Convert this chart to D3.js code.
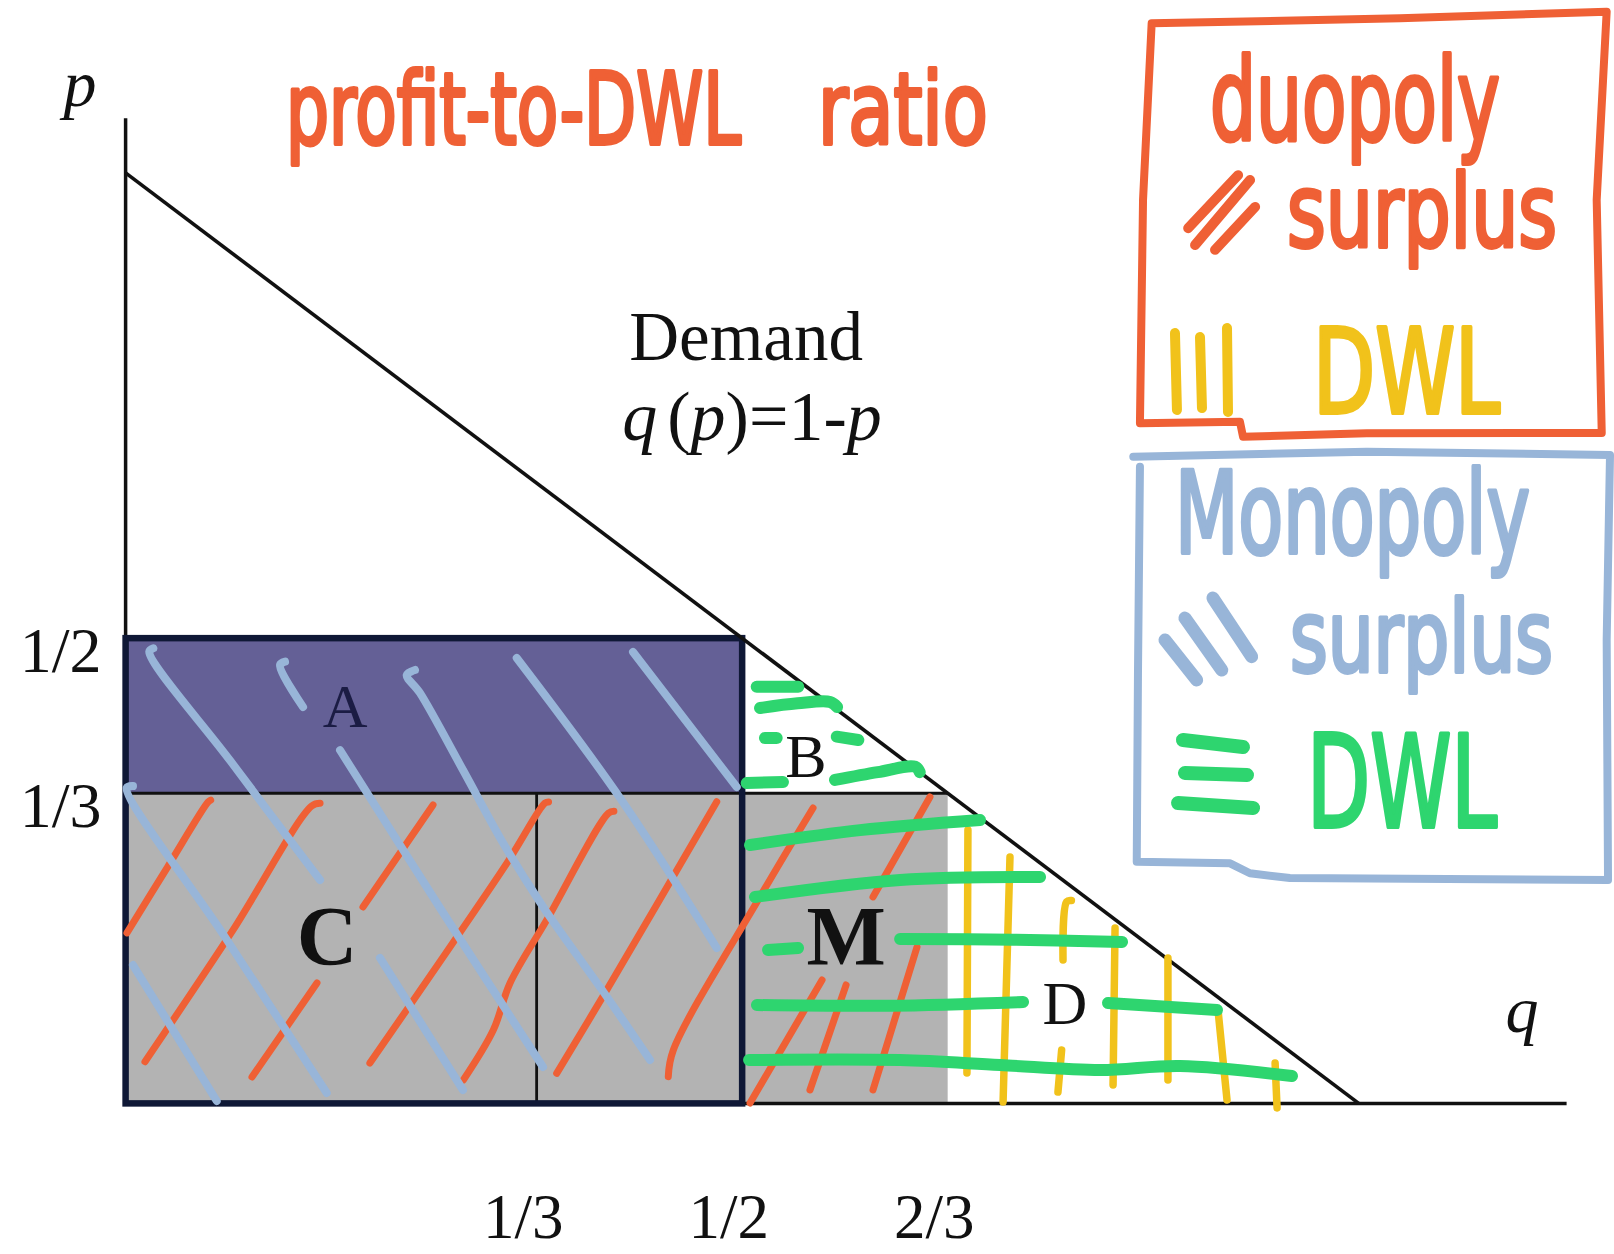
<!DOCTYPE html>
<html>
<head>
<meta charset="utf-8">
<script src="https://cdn.jsdelivr.net/npm/d3@7"></script>
<style>
  body { margin: 0; background: #fff; }
</style>
</head>
<body>
<svg id="chart"></svg>
<script>
// ---- data, all in (q, p) units of the diagram ----
const pTicks = [1 / 2, 1 / 3];
const pTickLabels = ["1/2", "1/3"];
const qTicks = [1 / 3, 1 / 2, 2 / 3];
const qTickLabels = ["1/3", "1/2", "2/3"];
const demand = [[0, 1], [1, 0]];
const regionNames = ["A", "C", "M"];
const regionQ = [[0, 1 / 2], [0, 1 / 2], [1 / 2, 2 / 3]];
const regionP = [[1 / 3, 1 / 2], [0, 1 / 3], [0, 1 / 3]];

// hand drawn hatching
const blueHatch = [
  [[0.0225, 0.4891], [0.0192, 0.4855], [0.085, 0.368], [0.1577, 0.2401]],
  [[0.0060, 0.3410], [0.0009, 0.3390], [0.080, 0.180], [0.1631, 0.0112]],
  [[0.0060, 0.1487], [0.0739, 0.0026]],
  [[0.1293, 0.4747], [0.1252, 0.4712], [0.1439, 0.4260]],
  [[0.1739, 0.3796], [0.2550, 0.2100], [0.3385, 0.0391]],
  [[0.2347, 0.4658], [0.2280, 0.4604], [0.2387, 0.4411], [0.2736, 0.3583], [0.3060, 0.2801],
   [0.3385, 0.2113], [0.3904, 0.1143], [0.4253, 0.0467]],
  [[0.2063, 0.1563], [0.2736, 0.0144]],
  [[0.3172, 0.4787], [0.4000, 0.3300], [0.4794, 0.1669]],
  [[0.4115, 0.4851], [0.4956, 0.3400]]
];
const orangeHatch = [
  [[0.0690, 0.3260], [0.0668, 0.3237], [0.0340, 0.2540], [0.0011, 0.1832]],
  [[0.1577, 0.3225], [0.1509, 0.3196], [0.0860, 0.1840], [0.0157, 0.0448]],
  [[0.2493, 0.3207], [0.1925, 0.2111]],
  [[0.1552, 0.1294], [0.1025, 0.0284]],
  [[0.3430, 0.3240], [0.3401, 0.3228], [0.3091, 0.2580], [0.1981, 0.0434]],
  [[0.3960, 0.3140], [0.3915, 0.3118], [0.3415, 0.1971], [0.3117, 0.1291], [0.2982, 0.0788], [0.2739, 0.0251]],
  [[0.4794, 0.3242], [0.3902, 0.1219], [0.3496, 0.0323]],
  [[0.5575, 0.3175], [0.5145, 0.2221], [0.4442, 0.0574], [0.4401, 0.0287]],
  [[0.6523, 0.3293], [0.6061, 0.2219]],
  [[0.6418, 0.1681], [0.6061, 0.0144]],
  [[0.5648, 0.1326], [0.5064, 0.0004]],
  [[0.5843, 0.1273], [0.5550, 0.0144]]
];
const greenHatch = [
  [[0.5118, 0.4478], [0.5455, 0.4478]],
  [[0.5145, 0.4249], [0.5450, 0.4300], [0.5713, 0.4314], [0.5770, 0.4260]],
  [[0.5185, 0.3927], [0.5280, 0.3927]],
  [[0.5767, 0.3941], [0.5942, 0.3905]],
  [[0.5037, 0.3443], [0.5331, 0.3454]],
  [[0.5753, 0.3476], [0.6100, 0.3560], [0.6402, 0.3618], [0.6440, 0.3560]],
  [[0.5064, 0.2777], [0.5956, 0.2937], [0.6929, 0.3046]],
  [[0.5104, 0.2218], [0.6281, 0.2401], [0.7416, 0.2433]],
  [[0.5210, 0.1649], [0.5453, 0.1670]],
  [[0.6281, 0.1767], [0.7200, 0.1760], [0.8081, 0.1735]],
  [[0.5120, 0.1057], [0.6200, 0.1050], [0.7278, 0.1090]],
  [[0.7967, 0.1079], [0.8851, 0.1004]],
  [[0.5056, 0.0466], [0.6281, 0.0466], [0.7092, 0.0412], [0.7903, 0.0358], [0.8552, 0.0401], [0.9459, 0.0294]]
];
const yellowHatch = [
  [[0.6831, 0.2938], [0.6823, 0.0326]],
  [[0.7172, 0.2648], [0.7116, 0.0015]],
  [[0.7670, 0.2180], [0.7632, 0.2168], [0.7602, 0.1541]],
  [[0.7591, 0.0574], [0.7561, 0.0122]],
  [[0.8024, 0.1885], [0.8008, 0.0198]],
  [[0.8453, 0.1563], [0.8453, 0.0252]],
  [[0.8859, 0.1004], [0.8932, 0.0037]],
  [[0.9322, 0.0434], [0.9338, -0.0049]]
];

// legend boxes and their little sample strokes
const orangeBox = [[0.8321, 1.1608], [1.0335, 1.1661], [1.2011, 1.1733], [1.1930, 0.9709], [1.1971, 0.7205],
  [1.0065, 0.7201], [0.9062, 0.7165], [0.9037, 0.7326], [0.8226, 0.7309], [0.8251, 0.9709], [0.8321, 1.1608]];
const blueBox = [[0.8172, 0.6950], [1.0065, 0.7004], [1.2038, 0.6968], [1.2011, 0.4980], [1.2022, 0.2401],
  [0.9442, 0.2422], [0.9118, 0.2473], [0.8957, 0.2580], [0.8200, 0.2598], [0.8210, 0.4625], [0.8226, 0.6843]];
const orangeKey = [
  [[0.9022, 0.9976], [0.8617, 0.9406]],
  [[0.9119, 0.9923], [0.8673, 0.9225]],
  [[0.9160, 0.9634], [0.8835, 0.9173]]
];
const yellowKey = [
  [[0.8510, 0.8279], [0.8526, 0.7452]],
  [[0.8713, 0.8236], [0.8729, 0.7473]],
  [[0.8932, 0.8333], [0.8940, 0.7431]]
];
const blueKey = [
  [[0.8429, 0.4980], [0.8686, 0.4551]],
  [[0.8591, 0.5216], [0.8889, 0.4657]],
  [[0.8818, 0.5431], [0.9132, 0.4801]]
];
const greenKey = [
  [[0.8575, 0.3905], [0.9062, 0.3830]],
  [[0.8591, 0.3551], [0.9094, 0.3530]],
  [[0.8535, 0.3228], [0.9143, 0.3175]]
];

// label anchors
const regionLabels = [
  {text: "A", q: 0.1781, p: 0.4050},
  {text: "B", q: 0.5518, p: 0.3508},
  {text: "C", q: 0.1634, p: 0.1488},
  {text: "M", q: 0.5843, p: 0.1488},
  {text: "D", q: 0.7618, p: 0.0853}
];
const handWords = [
  {text: "profit-to-DWL", q0: 0.1301, q1: 0.4991, p: 1.0311, key: "orange", size: 100},
  {text: "ratio", q0: 0.5615, q1: 0.6993, p: 1.0311, key: "orange", size: 100},
  {text: "duopoly", q0: 0.8794, q1: 1.1146, p: 1.0354, key: "orange", size: 114},
  {text: "surplus", q0: 0.9419, q1: 1.1609, p: 0.9203, key: "orange", size: 102},
  {text: "DWL", q0: 0.9630, q1: 1.1146, p: 0.7420, key: "yellow", size: 118},
  {text: "Monopoly", q0: 0.8510, q1: 1.1389, p: 0.5915, key: "blue", size: 114},
  {text: "surplus", q0: 0.9443, q1: 1.1576, p: 0.4636, key: "blue", size: 100},
  {text: "DWL", q0: 0.9581, q1: 1.1122, p: 0.2970, key: "green", size: 128}
];

// ---- drawing ----
const colors = {
  orange: "#ef6035", yellow: "#f1c21b", blue: "#98b5d8", green: "#2ed56f",
  purple: "#646096", gray: "#b3b3b3", navy: "#0f1836"
};
const W = 1614, H = 1254;
const x = d3.scaleLinear().domain([0, 1]).range([125.6, 1358.7]);
const y = d3.scaleLinear().domain([0, 1]).range([1103.4, 172.9]);

const svg = d3.select("#chart").attr("width", W).attr("height", H);
const serif = "'Liberation Serif', 'Times New Roman', serif";
const hand = "'DejaVu Sans Condensed', 'Liberation Sans Narrow', sans-serif";

const smooth = d3.line().x(d => x(d[0])).y(d => y(d[1])).curve(d3.curveCatmullRom.alpha(0.5));
const straight = d3.line().x(d => x(d[0])).y(d => y(d[1]));

// filled regions
const regionFill = {A: colors.purple, C: colors.gray, M: colors.gray};
svg.append("g").selectAll("rect")
  .data(regionNames)
  .join("rect")
  .attr("x", (d, i) => x(regionQ[i][0]))
  .attr("y", (d, i) => y(regionP[i][1]))
  .attr("width", (d, i) => x(regionQ[i][1]) - x(regionQ[i][0]))
  .attr("height", (d, i) => y(regionP[i][0]) - y(regionP[i][1]))
  .attr("fill", d => regionFill[d]);

// thin inner lines: p = 1/3 across to 2/3, and q = 1/3 down to the axis
const inner = svg.append("g").attr("stroke", "#111").attr("stroke-width", 2.8);
inner.append("line")
  .attr("x1", x(0)).attr("x2", x(qTicks[2]))
  .attr("y1", y(pTicks[1])).attr("y2", y(pTicks[1]));
inner.append("line")
  .attr("x1", x(qTicks[0])).attr("x2", x(qTicks[0]))
  .attr("y1", y(pTicks[1])).attr("y2", y(0));

// axes lines
const axes = svg.append("g").attr("stroke", "#111").attr("stroke-width", 3.5);
axes.append("line").attr("x1", x(0)).attr("x2", x(0)).attr("y1", y(0)).attr("y2", y(1.0586));
axes.append("line").attr("x1", x(0)).attr("x2", x(1.1686)).attr("y1", y(0)).attr("y2", y(0));

// monopoly rectangle border
svg.append("rect")
  .attr("x", x(0)).attr("y", y(1 / 2))
  .attr("width", x(1 / 2) - x(0)).attr("height", y(0) - y(1 / 2))
  .attr("fill", "none").attr("stroke", colors.navy).attr("stroke-width", 6.5);

// demand curve
svg.append("path").datum(demand).attr("d", straight)
  .attr("fill", "none").attr("stroke", "#111").attr("stroke-width", 3.6);

// tick labels through d3 axes
const yAxis = svg.append("g")
  .attr("transform", `translate(${x(0)},0)`)
  .call(d3.axisLeft(y).tickValues(pTicks).tickSize(0).tickPadding(24)
    .tickFormat((d, i) => pTickLabels[i]));
yAxis.select(".domain").remove();
yAxis.selectAll("text").attr("dy", 33).attr("font-size", 64).attr("font-family", serif).attr("fill", "#111");

const xAxis = svg.append("g")
  .attr("transform", `translate(0,${y(0)})`)
  .call(d3.axisBottom(x).tickValues(qTicks).tickSize(0)
    .tickFormat((d, i) => qTickLabels[i]));
xAxis.select(".domain").remove();
xAxis.selectAll("text").attr("y", 135).attr("dy", 0).attr("dx", -14)
  .attr("font-size", 63).attr("font-family", serif).attr("fill", "#111");

// axis names
svg.append("text").attr("x", x(-0.037)).attr("y", y(1.0718))
  .attr("text-anchor", "middle").attr("font-family", serif).attr("font-style", "italic")
  .attr("font-size", 66).attr("fill", "#111").text("p");
svg.append("text").attr("x", x(1.1324)).attr("y", y(0.0768))
  .attr("text-anchor", "middle").attr("font-family", serif).attr("font-style", "italic")
  .attr("font-size", 66).attr("fill", "#111").text("q");

// demand caption
svg.append("text").attr("x", x(0.5032)).attr("y", y(0.7990))
  .attr("text-anchor", "middle").attr("font-family", serif).attr("font-size", 69)
  .attr("fill", "#111").text("Demand");
const eq = svg.append("text").attr("x", x(0.5080)).attr("y", y(0.7130))
  .attr("text-anchor", "middle").attr("font-family", serif).attr("font-size", 70).attr("fill", "#111");
[["q", true], ["(", false], ["p", true], [")=1-", false], ["p", true]].forEach(([t, it], i) => {
  eq.append("tspan").attr("font-style", it ? "italic" : "normal")
    .attr("dx", i === 1 ? 10 : 0).text(t);
});

// region letters
const boldLabels = new Set(["C", "M"]);
svg.append("g").selectAll("text")
  .data(regionLabels)
  .join("text")
  .attr("x", d => x(d.q)).attr("y", d => y(d.p))
  .attr("text-anchor", "middle")
  .attr("font-family", serif)
  .attr("font-weight", d => boldLabels.has(d.text) ? "bold" : "normal")
  .attr("font-size", d => boldLabels.has(d.text) ? 84 : 62)
  .attr("fill", d => d.text === "A" ? "#1b1c44" : "#111")
  .text(d => d.text);

// hatching strokes
function strokes(data, color, width) {
  svg.append("g").selectAll("path")
    .data(data)
    .join("path")
    .attr("d", smooth)
    .attr("fill", "none")
    .attr("stroke", color)
    .attr("stroke-width", width)
    .attr("stroke-linecap", "round")
    .attr("stroke-linejoin", "round");
}
strokes(orangeHatch, colors.orange, 7);
strokes(blueHatch, colors.blue, 8);
strokes(yellowHatch, colors.yellow, 7.5);
strokes(greenHatch, colors.green, 12);

// legend boxes
svg.append("path").datum(orangeBox).attr("d", straight)
  .attr("fill", "none").attr("stroke", colors.orange).attr("stroke-width", 8)
  .attr("stroke-linejoin", "round").attr("stroke-linecap", "round");
svg.append("path").datum(blueBox).attr("d", straight)
  .attr("fill", "none").attr("stroke", colors.blue).attr("stroke-width", 8)
  .attr("stroke-linejoin", "round").attr("stroke-linecap", "round");
strokes(orangeKey, colors.orange, 10);
strokes(yellowKey, colors.yellow, 10);
strokes(blueKey, colors.blue, 13);
strokes(greenKey, colors.green, 14);

// hand written words, squeezed horizontally to the width they take in the picture
svg.append("g").selectAll("text")
  .data(handWords)
  .join("text")
  .attr("font-family", hand)
  .attr("font-size", d => d.size)
  .attr("fill", d => colors[d.key])
  .attr("stroke", d => colors[d.key])
  .attr("stroke-width", 3.5)
  .attr("stroke-linejoin", "round")
  .attr("vector-effect", "non-scaling-stroke")
  .text(d => d.text)
  .each(function (d) {
    const natural = this.getComputedTextLength();
    const k = (x(d.q1) - x(d.q0)) / natural;
    d3.select(this).attr("transform", `translate(${x(d.q0)},${y(d.p)}) scale(${k},1)`);
  });
</script>
</body>
</html>
